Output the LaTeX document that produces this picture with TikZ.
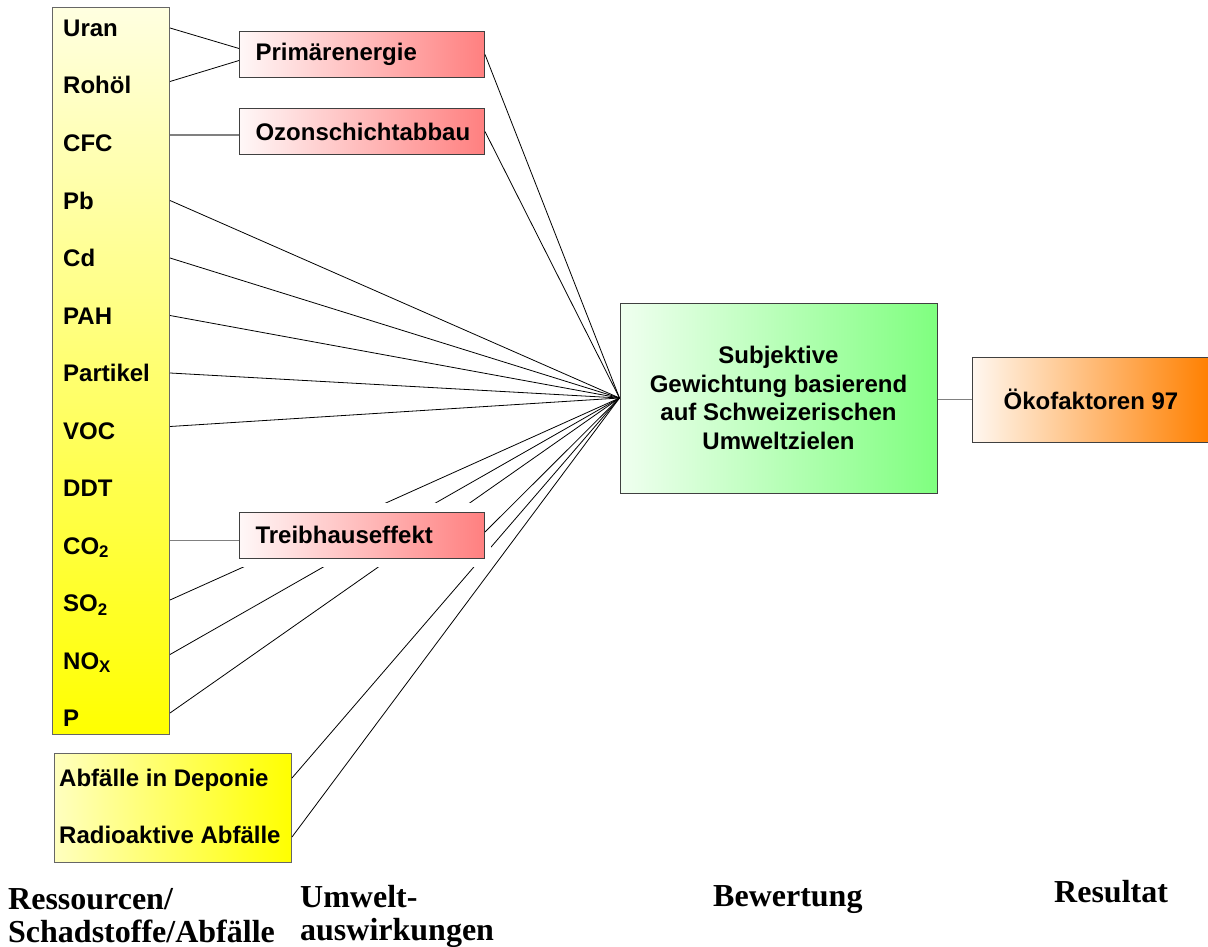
\documentclass[tikz,border=0pt]{standalone}
\usepackage{fontspec}
\setmainfont{Liberation Sans}
\newfontfamily\timesfont{Liberation Serif}
\tikzset{
  stoffbox/.style={draw=black!60, line width=1pt, inner sep=0pt, anchor=north west},
  stoff/.style={anchor=west, inner sep=0pt, text height=17pt, text depth=0pt},
  wirkung/.style={draw=black!75, line width=1pt, left color=red!3!white, right color=red!50!white,
    minimum width=245, minimum height=46, text width=213, inner xsep=16, inner ysep=0pt, align=left},
  rand/.style={fill=white, inner sep=0pt, minimum width=260, minimum height=64},
  gewichtbox/.style={draw=black!75, line width=1pt, left color=green!6!white, right color=green!50!white,
    minimum width=317, minimum height=190, align=center},
  faktorbox/.style={draw=black!75, line width=1pt, left color=orange!6!white, right color=orange,
    minimum width=238, minimum height=85},
  verb/.style={black, line width=0.8pt},
  gverb/.style={black!50, line width=1.4pt},
  spalte/.style={font=\timesfont\bfseries\fontsize{32}{33}\selectfont, inner sep=0pt, align=left}
}
\begin{document}
\begin{tikzpicture}[x=1pt,y=-1pt,font=\bfseries\fontsize{24}{28.7}\selectfont]
  \useasboundingbox (0,0) rectangle (1208,947);
  %% Ressourcen / Schadstoffe
  \node[stoffbox, top color=yellow!12!white, bottom color=yellow, minimum width=117, minimum height=727] (stoffe) at (52,7) {};
  \node[stoff] (uran) at (63,28) {Uran};
  \node[stoff] (rohoel) at (63,85.5) {Rohöl};
  \node[stoff] (cfc) at (63,143) {CFC};
  \node[stoff] (pb) at (63,200.5) {Pb};
  \node[stoff] (cd) at (63,258) {Cd};
  \node[stoff] (pah) at (63,315.5) {PAH};
  \node[stoff] (partikel) at (63,373) {Partikel};
  \node[stoff] (voc) at (63,430.5) {VOC};
  \node[stoff] (ddt) at (63,488) {DDT};
  \node[stoff] (cotwo) at (63,545.5) {CO\textsubscript{2}};
  \node[stoff] (sotwo) at (63,603) {SO\textsubscript{2}};
  \node[stoff] (nox) at (63,660.5) {NO\textsubscript{X}};
  \node[stoff] (p) at (63,718) {P};
  %% Abfaelle
  \node[stoffbox, left color=yellow!25!white, right color=yellow, minimum width=237, minimum height=109] (abfall) at (54,753) {};
  \node[stoff] (deponie) at (59,778) {Abfälle in Deponie};
  \node[stoff] (radio) at (59,835) {Radioaktive Abfälle};
  %% Umweltauswirkungen
  \node[wirkung] (primaer) at (362,54.5) {Primärenergie};
  \node[wirkung] (ozon) at (362,131.5) {Ozonschichtabbau};
  %% Bewertung und Resultat
  \node[gewichtbox] (gewicht) at (778.5,398) {Subjektive\\Gewichtung basierend\\auf Schweizerischen\\Umweltzielen};
  \node[faktorbox] (oeko) at (1091,399.5) {Ökofaktoren 97};
  %% Verbindungen
  \draw[verb] (stoffe.east |- uran) -- ([yshift=6]primaer.west);
  \draw[verb] ([yshift=4]stoffe.east |- rohoel) -- ([yshift=-6]primaer.west);
  \draw[gverb] ([yshift=8]cfc.west -| stoffe.east) coordinate (cfcend) -- (cfcend -| ozon.west);
  \draw[verb] (primaer.east) -- (gewicht.west);
  \draw[verb] (ozon.east) -- (gewicht.west);
  \draw[verb] (stoffe.east |- pb) -- (gewicht.west);
  \draw[verb] (stoffe.east |- cd) -- (gewicht.west);
  \draw[verb] (stoffe.east |- pah) -- (gewicht.west);
  \draw[verb] (stoffe.east |- partikel) -- (gewicht.west);
  \draw[verb] ([yshift=4]stoffe.east |- voc) -- (gewicht.west);
  \draw[verb] ([yshift=3]stoffe.east |- sotwo) -- (gewicht.west);
  \draw[verb] ([yshift=6]stoffe.east |- nox) -- (gewicht.west);
  \draw[verb] ([yshift=5]stoffe.east |- p) -- (gewicht.west);
  \draw[verb] (abfall.east |- deponie) -- (gewicht.west);
  %% Treibhauseffekt mit weissem Rand
  \node[rand] (treibrand) at (361,535) {};
  \node[wirkung] (treib) at (362,535) {Treibhauseffekt};
  \draw[verb] ([yshift=-2]abfall.east |- radio) -- (gewicht.west);
  \draw[gverb] ([yshift=5]cotwo.west -| stoffe.east) coordinate (coend) -- (coend -| treib.west);
  \draw[verb] ([yshift=3]treib.east) -- (gewicht.west);
  \draw[gverb] (oeko.west -| gewicht.east) -- (oeko.west);
  %% Spaltentitel
  \node[spalte, anchor=north west] (titel1) at (8,888) {Ressourcen/\\Schadstoffe/Abfälle};
  \node[spalte, anchor=north west] (titel2) at (300,885) {Umwelt-\\auswirkungen};
  \node[spalte, anchor=base west] (titel3) at (713,906) {Bewertung};
  \node[spalte, anchor=base west] (titel4) at (1054,902) {Resultat};
\end{tikzpicture}
\end{document}
